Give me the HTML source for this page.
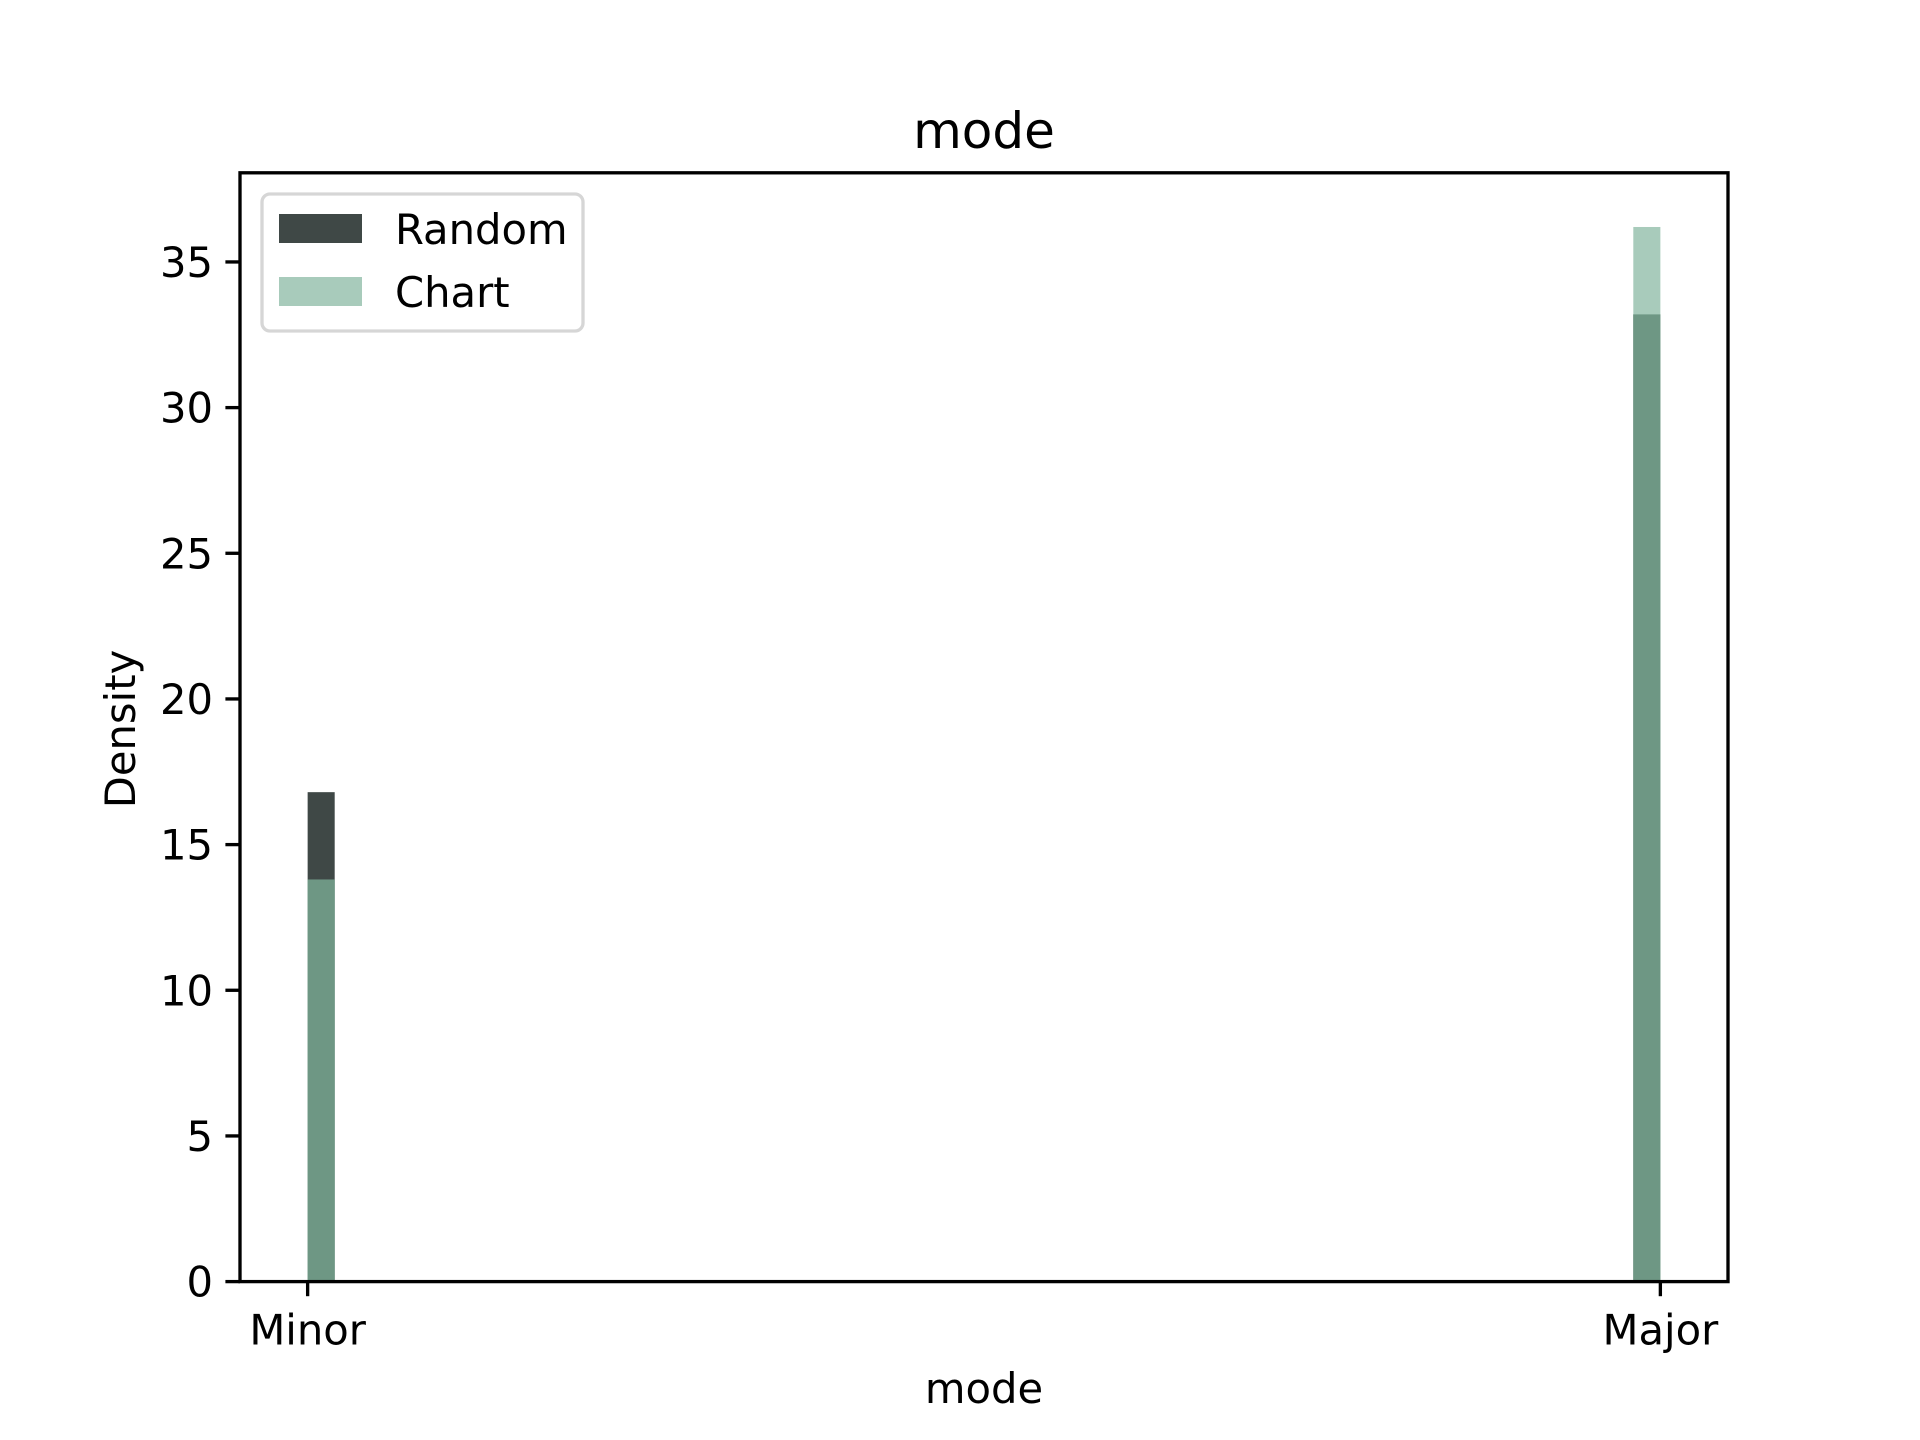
<!DOCTYPE html>
<html><head><meta charset="utf-8"><style>
html,body{margin:0;padding:0;background:#fff;}
svg{display:block;font-family:"DejaVu Sans","Liberation Sans",sans-serif;}
</style></head><body>
<svg id="chart" width="1920" height="1440" viewBox="0 0 1920 1440" xmlns="http://www.w3.org/2000/svg">
<rect width="1920" height="1440" fill="#fff"/>
<g id="bars"></g>
<g id="axes"></g>
<text x="984" y="148" font-size="50" text-anchor="middle">mode</text>
<text x="984" y="1403" font-size="41.7" text-anchor="middle">mode</text>
<text transform="translate(135,729) rotate(-90)" font-size="41.7" text-anchor="middle">Density</text>
<g>
<rect x="262" y="194" width="321" height="137" rx="8" fill="#fff" fill-opacity="0.8" stroke="#d6d6d6" stroke-width="3.3"/>
<rect x="279" y="214" width="83" height="29" fill="#3f4846"/>
<text x="395" y="244" font-size="41.7">Random</text>
<rect x="279" y="277" width="83" height="29" fill="#a8cbbb"/>
<text x="395" y="307" font-size="41.7">Chart</text>
</g>
</svg>
<script>
const categories = ["Minor","Major"];
const catValues = [0, 1];
const randomDensity = [16.8, 33.2];
const chartDensity = [13.8, 36.2];
const yTicks = [0,5,10,15,20,25,30,35];
const binWidth = 0.02;

const NS="http://www.w3.org/2000/svg";
const L=240,R=1728,T=172.8,B=1281.6;
const xmin=-0.05,xmax=1.05,ymin=0,ymax=38.06;
const xs=v=>L+(v-xmin)/(xmax-xmin)*(R-L);
const ys=v=>B-(v-ymin)/(ymax-ymin)*(B-T);
function mk(tag,attrs,parent){const e=document.createElementNS(NS,tag);for(const k in attrs)e.setAttribute(k,attrs[k]);parent.appendChild(e);return e;}
const bars=document.getElementById('bars'), axes=document.getElementById('axes');
catValues.forEach((c,i)=>{
  const x0 = c===0 ? c : c-binWidth;
  const bx=xs(x0), bw=xs(x0+binWidth)-xs(x0);
  const rb=mk('rect',{x:bx,y:ys(randomDensity[i]),width:bw,height:B-ys(randomDensity[i]),fill:'#3f4846'},bars);
  
  
  const cb=mk('rect',{x:bx,y:ys(chartDensity[i]),width:bw,height:B-ys(chartDensity[i]),fill:'#a8cbbb'},bars);
  
  
  const m=Math.min(randomDensity[i],chartDensity[i]);
  const ob=mk('rect',{x:bx,y:ys(m),width:bw,height:B-ys(m),fill:'#6e9784'},bars);
  
  
});
const frame=mk('rect',{x:L,y:T,width:R-L,height:B-T,fill:'none',stroke:'#000','stroke-width':3.33},axes);


yTicks.forEach(t=>{
  const y=ys(t);
  const ln=mk('line',{x1:L-14.6,x2:L,y1:y,y2:y,stroke:'#000','stroke-width':3.33},axes);
  
  
  const tx=mk('text',{x:L-27,y:y+15,'font-size':41.7,'text-anchor':'end'},axes);
  tx.textContent=t;
  
  
});
catValues.forEach((c,i)=>{
  const x=xs(c);
  const ln=mk('line',{x1:x,x2:x,y1:B,y2:B+14.6,stroke:'#000','stroke-width':3.33},axes);
  
  
  const tx=mk('text',{x:x,y:B+63,'font-size':41.7,'text-anchor':'middle'},axes);
  tx.textContent=categories[i];
  
  
});
</script>
</body></html>
